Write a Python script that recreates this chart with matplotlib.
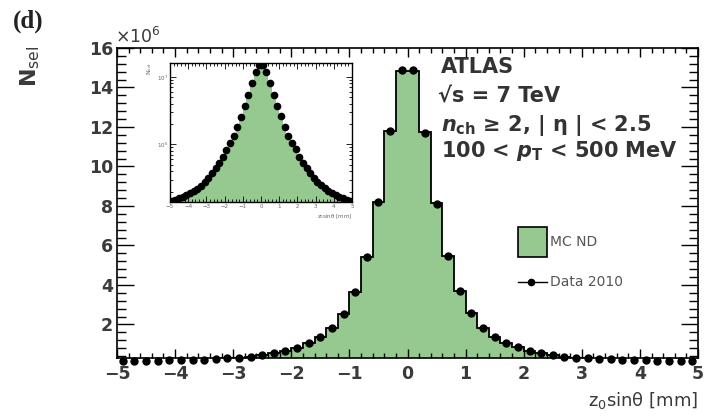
import matplotlib
matplotlib.use("Agg")
import matplotlib.pyplot as plt
import numpy as np
from matplotlib.patches import Rectangle
from matplotlib.ticker import MultipleLocator, LogLocator, NullFormatter

plt.rcParams["font.family"] = ["DejaVu Sans"]
plt.rcParams["mathtext.fontset"] = "custom"
plt.rcParams["mathtext.rm"] = "DejaVu Sans"
plt.rcParams["mathtext.it"] = "DejaVu Sans:italic:bold"
plt.rcParams["mathtext.bf"] = "DejaVu Sans:bold"

# z0 sin(theta) histogram, 50 bins of 0.2 mm from -5 to 5 (values in 1e6 tracks)
bin_edges = np.linspace(-5, 5, 51)

data_2010 = [
    0.145, 0.152, 0.160, 0.168, 0.178, 0.190, 0.205, 0.220, 0.245, 0.280,
    0.320, 0.370, 0.440, 0.530, 0.650, 0.820, 1.050, 1.350, 1.800, 2.550,
    3.650, 5.400, 8.200, 11.80, 14.90,
    14.90, 11.70, 8.100, 5.450, 3.700, 2.600, 1.800, 1.350, 1.050, 0.850,
    0.660, 0.530, 0.440, 0.370, 0.320, 0.280, 0.250, 0.225, 0.205, 0.190,
    0.178, 0.167, 0.158, 0.150, 0.143,
]

mc_nd = [
    0.146, 0.153, 0.161, 0.169, 0.179, 0.191, 0.206, 0.222, 0.247, 0.282,
    0.322, 0.372, 0.442, 0.532, 0.652, 0.822, 1.052, 1.352, 1.800, 2.550,
    3.650, 5.400, 8.200, 11.80, 14.85,
    14.85, 11.75, 8.150, 5.450, 3.700, 2.600, 1.800, 1.350, 1.050, 0.850,
    0.660, 0.530, 0.440, 0.370, 0.320, 0.280, 0.250, 0.225, 0.205, 0.190,
    0.178, 0.167, 0.158, 0.150, 0.143,
]

green = "#95c98f"
grey = "#3a3a3a"

centers = 0.5 * (bin_edges[:-1] + bin_edges[1:])
data_2010 = np.array(data_2010)
mc_nd = np.array(mc_nd)

fig = plt.figure(figsize=(7.04, 4.16), dpi=100)

# main axes
ax = fig.add_axes([117 / 704, 58 / 416, 581 / 704, 310 / 416])
ax.stairs(mc_nd, bin_edges, fill=True, color=green, zorder=1)
ax.stairs(mc_nd, bin_edges, color="black", linewidth=1.3, zorder=2)
ax.plot(centers, data_2010, "o", color="black", markersize=5, clip_on=False, zorder=3)

ax.set_xlim(-5, 5)
ax.set_ylim(0.3, 16)
ax.xaxis.set_major_locator(MultipleLocator(1))
ax.xaxis.set_minor_locator(MultipleLocator(0.2))
ax.yaxis.set_minor_locator(MultipleLocator(0.4))
ax.set_yticks([2, 4, 6, 8, 10, 12, 14, 16])
ax.tick_params(which="both", direction="in", top=True, right=True, colors="black",
               labelcolor=grey, labelsize=12.5, width=1)
ax.tick_params(axis="y", which="major", length=12, pad=3)
ax.tick_params(axis="y", which="minor", length=6.5)
ax.tick_params(axis="x", which="major", length=6.5, pad=5)
ax.tick_params(axis="x", which="minor", length=3.3)
for lab in ax.get_xticklabels() + ax.get_yticklabels():
    lab.set_fontweight("bold")
for s in ax.spines.values():
    s.set_linewidth(1.2)

fig.text(698 / 704, 5 / 416, r"z$_0$sinθ [mm]", ha="right", va="bottom",
         fontsize=13, color=grey)
fig.text(18 / 704, 370 / 416, r"N$_{\rm sel}$", rotation=90, ha="left", va="top",
         fontsize=16, fontweight="bold", color=grey)
fig.text(115 / 704, 369 / 416, r"×10$^{6}$", ha="left", va="bottom",
         fontsize=12.5, color=grey)
fig.text(13 / 704, 395 / 416, "(d)", ha="left", va="center", fontsize=18,
         fontweight="bold", family="Liberation Serif", color="#222222")

# labels
txt_kw = dict(ha="left", va="center", fontsize=15, fontweight="bold", color="#333333")
fig.text(441 / 704, 349 / 416, "ATLAS", **txt_kw)
fig.text(438 / 704, 319 / 416, "√s = 7 TeV", **txt_kw)
fig.text(441 / 704, 291 / 416, r"$n_{\mathbf{ch}}$ ≥ 2, | η | < 2.5", **txt_kw)
fig.text(441 / 704, 265 / 416, r"100 < $p_{\mathbf{T}}$ < 500 MeV", **txt_kw)

# legend drawn by hand
ax.add_patch(Rectangle((0.690, 0.326), 0.050, 0.097, transform=ax.transAxes,
                       facecolor=green, edgecolor="black", linewidth=1.2, clip_on=False))
ax.text(0.746, 0.374, "MC ND", transform=ax.transAxes, ha="left", va="center",
        fontsize=10, color="#555555")
ax.plot([0.690, 0.740], [0.245, 0.245], color="black", linewidth=1,
        transform=ax.transAxes, clip_on=False)
ax.plot([0.713], [0.245], "o", color="black", markersize=4.5,
        transform=ax.transAxes, clip_on=False)
ax.text(0.746, 0.245, "Data 2010", transform=ax.transAxes, ha="left", va="center",
        fontsize=10, color="#555555")

# inset with log scale
axi = fig.add_axes([170 / 704, 214 / 416, 182 / 704, 139 / 416])
axi.stairs(mc_nd * 1e6, bin_edges, fill=True, color=green, zorder=1)
axi.plot(centers, data_2010 * 1e6, "o", color="black", markersize=4.5, zorder=3)
axi.set_yscale("log")
axi.set_xlim(-5, 5)
axi.set_ylim(1.4e5, 1.6e7)
axi.xaxis.set_major_locator(MultipleLocator(1))
axi.xaxis.set_minor_locator(MultipleLocator(0.2))
axi.yaxis.set_major_locator(LogLocator(base=10, numticks=5))
axi.yaxis.set_minor_locator(LogLocator(base=10, subs=np.arange(2, 10), numticks=20))
axi.yaxis.set_minor_formatter(NullFormatter())
axi.tick_params(which="both", direction="in", top=True, right=True,
                labelsize=4, labelcolor="#666666", width=0.6, pad=1.5)
axi.tick_params(which="major", length=4)
axi.tick_params(which="minor", length=2)
for s in axi.spines.values():
    s.set_linewidth(1.0)
axi.set_xlabel(r"z$_0$sinθ [mm]", fontsize=4, color="#666666", loc="right", labelpad=2)
axi.set_ylabel(r"N$_{\rm sel}$", fontsize=4.5, color="#666666", loc="top", labelpad=2)

fig.savefig("out.png", dpi=100)
